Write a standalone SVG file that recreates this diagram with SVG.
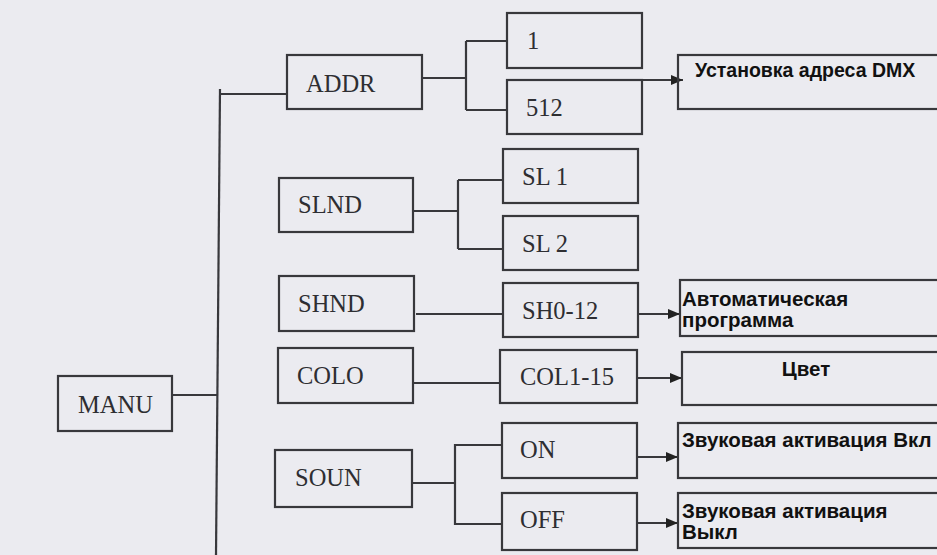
<svg xmlns="http://www.w3.org/2000/svg" width="937" height="555" viewBox="0 0 937 555">
<style>
.bg{fill:#ebebf0}
.box{fill:none;stroke:#38383c;stroke-width:2.2}
.ln{fill:none;stroke:#38383c;stroke-width:2.2}
.lbl{font-family:"Liberation Serif",serif;font-size:24.5px;fill:#2e2e32}
.ru{font-family:"Liberation Sans",Arial,sans-serif;font-size:20.5px;font-weight:bold;fill:#111}
</style>
<defs>
<marker id="ah" viewBox="0 0 12 10" refX="12" refY="5" markerWidth="12" markerHeight="10" markerUnits="userSpaceOnUse" orient="auto">
<path d="M0,0 L12,5 L0,10 z" fill="#222"/>
</marker>
</defs>
<rect class="bg" x="0" y="0" width="937" height="555"/>
<g id="connectors">
<path class="ln" d="M220,89 L216,555"/>
<path class="ln" d="M220,94 H287"/>
<path class="ln" d="M172,395 H217"/>
<path class="ln" d="M422,78 H466 M466,41 V110 M466,41 H507 M466,110 H507"/>
<path class="ln" d="M642,80 H683" marker-end="url(#ah)"/>
<path class="ln" d="M413,211 H458 M458,180 V249 M458,180 H503 M458,249 H503"/>
<path class="ln" d="M416,314 H503"/>
<path class="ln" d="M638,314 H680" marker-end="url(#ah)"/>
<path class="ln" d="M413,383 H500"/>
<path class="ln" d="M637,378 H682" marker-end="url(#ah)"/>
<path class="ln" d="M412,483 H455 M455,444 V525 M455,445 H502 M455,524 H502"/>
<path class="ln" d="M637,457 H678" marker-end="url(#ah)"/>
<path class="ln" d="M637,523 H678" marker-end="url(#ah)"/>
</g>
<g id="manu"><rect class="box" x="58" y="376" width="114" height="55"/><text class="lbl" x="78" y="413">MANU</text></g>
<g id="addr"><rect class="box" x="287" y="55" width="135" height="54"/><text class="lbl" x="306" y="92">ADDR</text></g>
<g id="a1"><rect class="box" x="507" y="13" width="135" height="55"/><text class="lbl" x="527" y="49">1</text></g>
<g id="a512"><rect class="box" x="507" y="80" width="135" height="54"/><text class="lbl" x="526" y="116">512</text></g>
<g id="dmx"><rect class="box" x="678" y="55" width="270" height="54"/><text class="ru" x="695" y="77" style="font-size:19.5px">Установка адреса DMX</text></g>
<g id="slnd"><rect class="box" x="279" y="178" width="134" height="54"/><text class="lbl" x="298" y="213">SLND</text></g>
<g id="sl1"><rect class="box" x="503" y="149" width="135" height="54"/><text class="lbl" x="522" y="185">SL 1</text></g>
<g id="sl2"><rect class="box" x="503" y="216" width="135" height="54"/><text class="lbl" x="522" y="252">SL 2</text></g>
<g id="shnd"><rect class="box" x="279" y="276" width="135" height="55"/><text class="lbl" x="298" y="312">SHND</text></g>
<g id="sh012"><rect class="box" x="503" y="283" width="135" height="54"/><text class="lbl" x="522" y="319">SH0-12</text></g>
<g id="auto"><rect class="box" x="680" y="280" width="270" height="56"/><text class="ru" x="682" y="306">Автоматическая</text><text class="ru" x="682" y="327">программа</text></g>
<g id="colo"><rect class="box" x="278" y="348" width="135" height="55"/><text class="lbl" x="297" y="384">COLO</text></g>
<g id="col115"><rect class="box" x="500" y="350" width="137" height="53"/><text class="lbl" x="520" y="385">COL1-15</text></g>
<g id="cvet"><rect class="box" x="682" y="352" width="270" height="53"/><text class="ru" x="806" y="376" text-anchor="middle">Цвет</text></g>
<g id="soun"><rect class="box" x="275" y="450" width="137" height="57"/><text class="lbl" x="295" y="486">SOUN</text></g>
<g id="on"><rect class="box" x="502" y="423" width="135" height="55"/><text class="lbl" x="520" y="458">ON</text></g>
<g id="off"><rect class="box" x="502" y="493" width="135" height="57"/><text class="lbl" x="520" y="528">OFF</text></g>
<g id="von"><rect class="box" x="678" y="423" width="270" height="55"/><text class="ru" x="682" y="447">Звуковая активация Вкл</text></g>
<g id="voff"><rect class="box" x="678" y="493" width="270" height="55"/><text class="ru" x="682" y="518">Звуковая активация</text><text class="ru" x="682" y="539">Выкл</text></g>
</svg>
